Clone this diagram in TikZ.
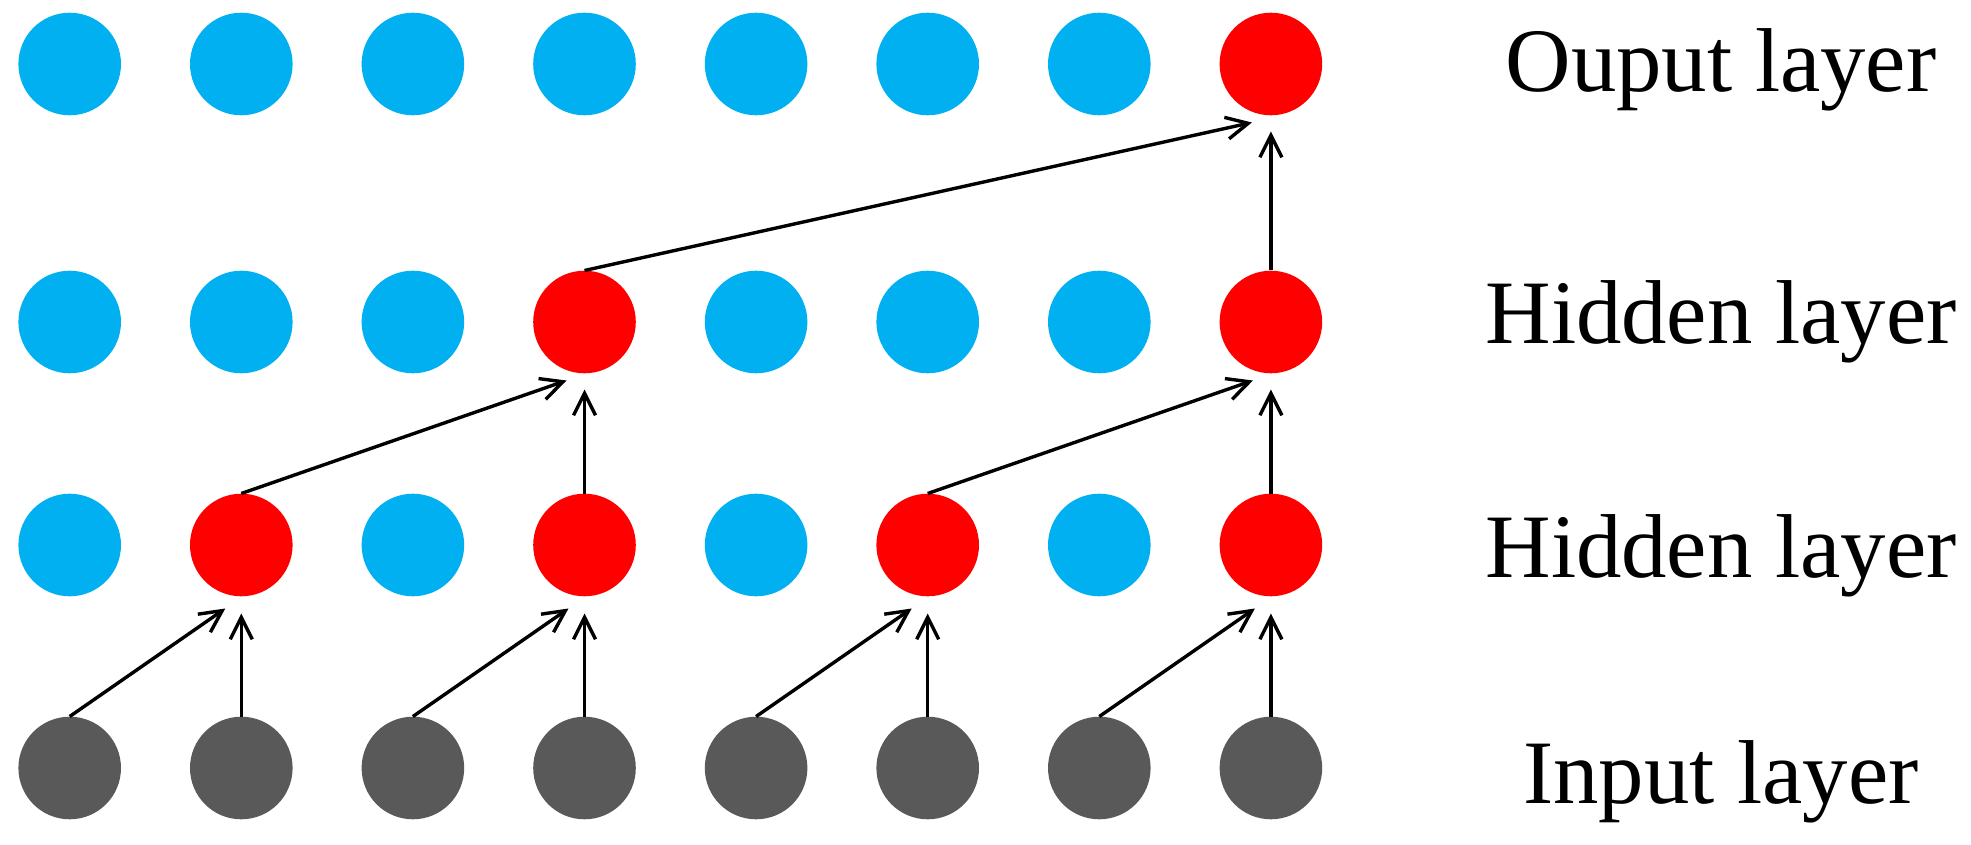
\documentclass[tikz,border=0pt]{standalone}
\usepackage{fontspec}
\setmainfont{Liberation Serif}
\usetikzlibrary{arrows.meta}
\definecolor{cyanb}{HTML}{00B0F0}
\definecolor{redn}{HTML}{FF0000}
\definecolor{grayn}{HTML}{595959}
\begin{document}
\begin{tikzpicture}[x=1pt,y=-1pt,
  neuron/.style={circle,minimum size=102.6pt,inner sep=0pt,draw=none},
  cy/.style={neuron,fill=cyanb},
  rd/.style={neuron,fill=redn},
  gy/.style={neuron,fill=grayn},
  conn/.style={line width=3.4pt,-{Straight Barb[length=22pt,width=22pt]}},
  lbl/.style={anchor=base,font=\fontsize{90.7}{100}\selectfont,inner sep=0pt}]
\useasboundingbox (0,0) rectangle (1971,845);
% top row (output)
\foreach \c/\s in {0/cy,1/cy,2/cy,3/cy,4/cy,5/cy,6/cy,7/rd}
  \node[\s] (a\c) at ({69.7+171.6*\c},64) {};
% hidden row 2
\foreach \c/\s in {0/cy,1/cy,2/cy,3/rd,4/cy,5/cy,6/cy,7/rd}
  \node[\s] (b\c) at ({69.7+171.6*\c},322) {};
% hidden row 1
\foreach \c/\s in {0/cy,1/rd,2/cy,3/rd,4/cy,5/rd,6/cy,7/rd}
  \node[\s] (h\c) at ({69.7+171.6*\c},545) {};
% input row
\foreach \c in {0,...,7}
  \node[gy] (i\c) at ({69.7+171.6*\c},768) {};
% labels
\node[lbl] (lo) at (1721,92) {Ouput layer};
\node[lbl] (lh2) at (1721,343) {Hidden layer};
\node[lbl] (lh1) at (1721,577) {Hidden layer};
\node[lbl] (li) at (1721,803) {Input layer};
% input -> hidden 1
\foreach \p/\q in {0/1,2/3,4/5,6/7}{
  \draw[conn] (i\p.north) -- ([xshift=-16pt,yshift=-12pt]h\q.south);
  \draw[conn] (i\q.north) -- ([yshift=-17pt]h\q.south);
}
% hidden 1 -> hidden 2
\draw[conn] (h1.north) -- ([xshift=-18pt,yshift=-7pt]b3.south);
\draw[conn] (h3.north) -- ([yshift=-16pt]b3.south);
\draw[conn] (h5.north) -- ([xshift=-18pt,yshift=-7pt]b7.south);
\draw[conn] (h7.north) -- ([yshift=-16pt]b7.south);
% hidden 2 -> output
\draw[conn] (b3.north) -- ([xshift=-19pt,yshift=-7pt]a7.south);
\draw[conn] (b7.north) -- ([yshift=-16pt]a7.south);
\end{tikzpicture}
\end{document}
